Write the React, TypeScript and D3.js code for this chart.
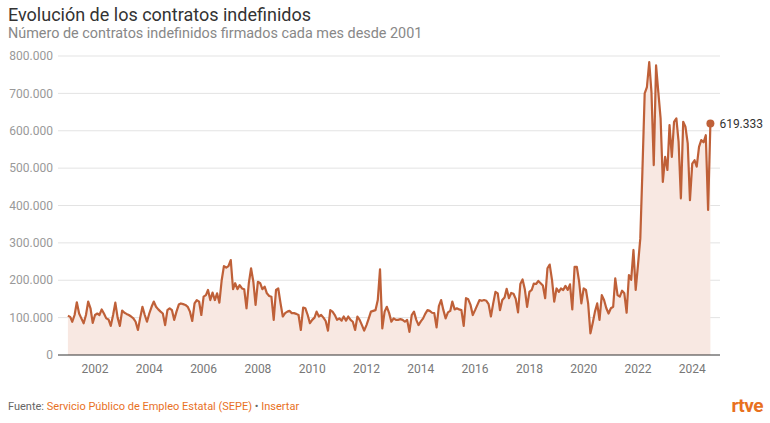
import React from "react";
import * as d3 from "d3";

const title = "Evolución de los contratos indefinidos";
const subtitle = "Número de contratos indefinidos firmados cada mes desde 2001";
const startYear = 2001;
const startMonth = 0;

// monthly values, thousands of contracts
const v2001 = [105, 102, 89, 107, 141, 111, 98, 85, 107, 143, 125, 86];
const v2002 = [107, 111, 107, 122, 111, 98, 95, 78, 107, 140, 100, 78];
const v2003 = [119, 113, 110, 107, 103, 98, 89, 67, 100, 129, 107, 89];
const v2004 = [111, 129, 143, 129, 122, 116, 111, 80, 120, 125, 120, 94];
const v2005 = [116, 135, 138, 136, 134, 129, 116, 91, 138, 147, 143, 107];
const v2006 = [156, 160, 174, 147, 167, 147, 165, 140, 200, 238, 234, 238];
const v2007 = [254, 176, 192, 176, 187, 178, 176, 125, 192, 232, 196, 134];
const v2008 = [196, 192, 176, 183, 165, 158, 156, 94, 174, 178, 138, 103];
const v2009 = [112, 116, 118, 112, 112, 110, 107, 67, 127, 125, 107, 85];
const v2010 = [94, 100, 116, 103, 107, 100, 91, 65, 120, 116, 107, 94];
const v2011 = [98, 92, 103, 92, 103, 94, 89, 67, 103, 94, 80, 65];
const v2012 = [80, 98, 116, 118, 120, 147, 229, 71, 116, 129, 112, 89];
const v2013 = [98, 94, 94, 96, 94, 89, 94, 62, 107, 116, 94, 80];
const v2014 = [90, 98, 110, 120, 118, 113, 112, 74, 131, 147, 120, 98];
const v2015 = [114, 118, 143, 122, 125, 122, 120, 78, 152, 149, 134, 107];
const v2016 = [120, 134, 147, 145, 147, 145, 136, 103, 138, 169, 165, 120];
const v2017 = [147, 154, 177, 152, 166, 164, 150, 114, 190, 202, 175, 129];
const v2018 = [169, 174, 191, 190, 198, 192, 186, 152, 232, 242, 201, 143];
const v2019 = [178, 169, 178, 174, 185, 174, 189, 122, 236, 236, 196, 138];
const v2020 = [178, 174, 138, 58, 85, 116, 138, 94, 160, 147, 125, 111];
const v2021 = [125, 129, 205, 160, 156, 172, 165, 113, 214, 201, 281, 174];
const v2022 = [241, 312, 490, 700, 717, 784, 704, 508, 775, 704, 633, 463];
const v2023 = [530, 495, 615, 530, 624, 633, 571, 419, 624, 611, 566, 414];
const v2024 = [512, 521, 504, 557, 575, 569, 588, 388, 619.333];

const yTicks = [0, 100000, 200000, 300000, 400000, 500000, 600000, 700000, 800000];
const xTickYears = [2002, 2004, 2006, 2008, 2010, 2012, 2014, 2016, 2018, 2020, 2022, 2024];

const source = "Servicio Público de Empleo Estatal (SEPE)";
const embed = "Insertar";

const FONT = "Roboto, 'Noto Sans', sans-serif";
const LINE = "#bf6038";
const FILL = "#f8e8e2";
const ORANGE = "#e8711f";

const locale = d3.formatLocale({ decimal: ",", thousands: ".", grouping: [3], currency: ["", "€"] });
const fmt = locale.format(",.0f");

export default function App() {
  const W = 770;
  const H = 423;
  const all = [
    v2001, v2002, v2003, v2004, v2005, v2006, v2007, v2008, v2009, v2010, v2011, v2012,
    v2013, v2014, v2015, v2016, v2017, v2018, v2019, v2020, v2021, v2022, v2023, v2024,
  ].flat();
  const data = all.map((v, i) => ({ date: new Date(startYear, startMonth + i, 1), value: v * 1000 }));
  const first = data[0];
  const last = data[data.length - 1];

  const x = d3.scaleTime().domain([first.date, last.date]).range([67.9, 710.4]);
  const y = d3.scaleLinear().domain([0, 800000]).range([355, 56]);

  const area = d3
    .area<{ date: Date; value: number }>()
    .x((d) => x(d.date))
    .y0(y(0))
    .y1((d) => y(d.value));
  const line = d3
    .line<{ date: Date; value: number }>()
    .x((d) => x(d.date))
    .y((d) => y(d.value));

  const gridX0 = 58;
  const gridX1 = 720;

  return (
    <svg
      width={W}
      height={H}
      style={{ position: "absolute", left: 0, top: 0, background: "#fff" }}
      fontFamily={FONT}
    >
      <text x={8} y={21} fontSize={18} fill="#333">{title}</text>
      <text x={8} y={38} fontSize={14.4} fill="#888">{subtitle}</text>

      {yTicks.map((t) => (
        <g key={t}>
          {t > 0 && <line x1={gridX0} x2={gridX1} y1={y(t)} y2={y(t)} stroke="#e3e3e3" strokeWidth={1} />}
          <text x={53} y={y(t)} dy="0.35em" textAnchor="end" fontSize={12} fill="#999">
            {fmt(t)}
          </text>
        </g>
      ))}

      <path d={area(data) || ""} fill={FILL} />
      <path d={line(data) || ""} fill="none" stroke={LINE} strokeWidth={2.2} strokeLinejoin="round" />

      <line x1={gridX0} x2={gridX1} y1={y(0)} y2={y(0)} stroke="#333" strokeWidth={1} />

      {xTickYears.map((yr) => (
        <text key={yr} x={x(new Date(yr, 0, 1))} y={373} textAnchor="middle" fontSize={12} fill="#777">
          {yr}
        </text>
      ))}

      <circle cx={x(last.date)} cy={y(last.value)} r={4} fill={LINE} />
      <text x={x(last.date) + 9} y={y(last.value)} dy="0.35em" fontSize={12} fill="#333">
        {fmt(last.value)}
      </text>

      <text x={8} y={410} fontSize={11} fill="#666">
        <tspan>Fuente: </tspan>
        <tspan fill={ORANGE}>{source}</tspan>
        <tspan> • </tspan>
        <tspan fill={ORANGE}>{embed}</tspan>
      </text>

      <text x={763} y={412} textAnchor="end" fontSize={19} fontWeight={700} fill={ORANGE} letterSpacing={-0.5}>
        rtve
      </text>
    </svg>
  );
}
